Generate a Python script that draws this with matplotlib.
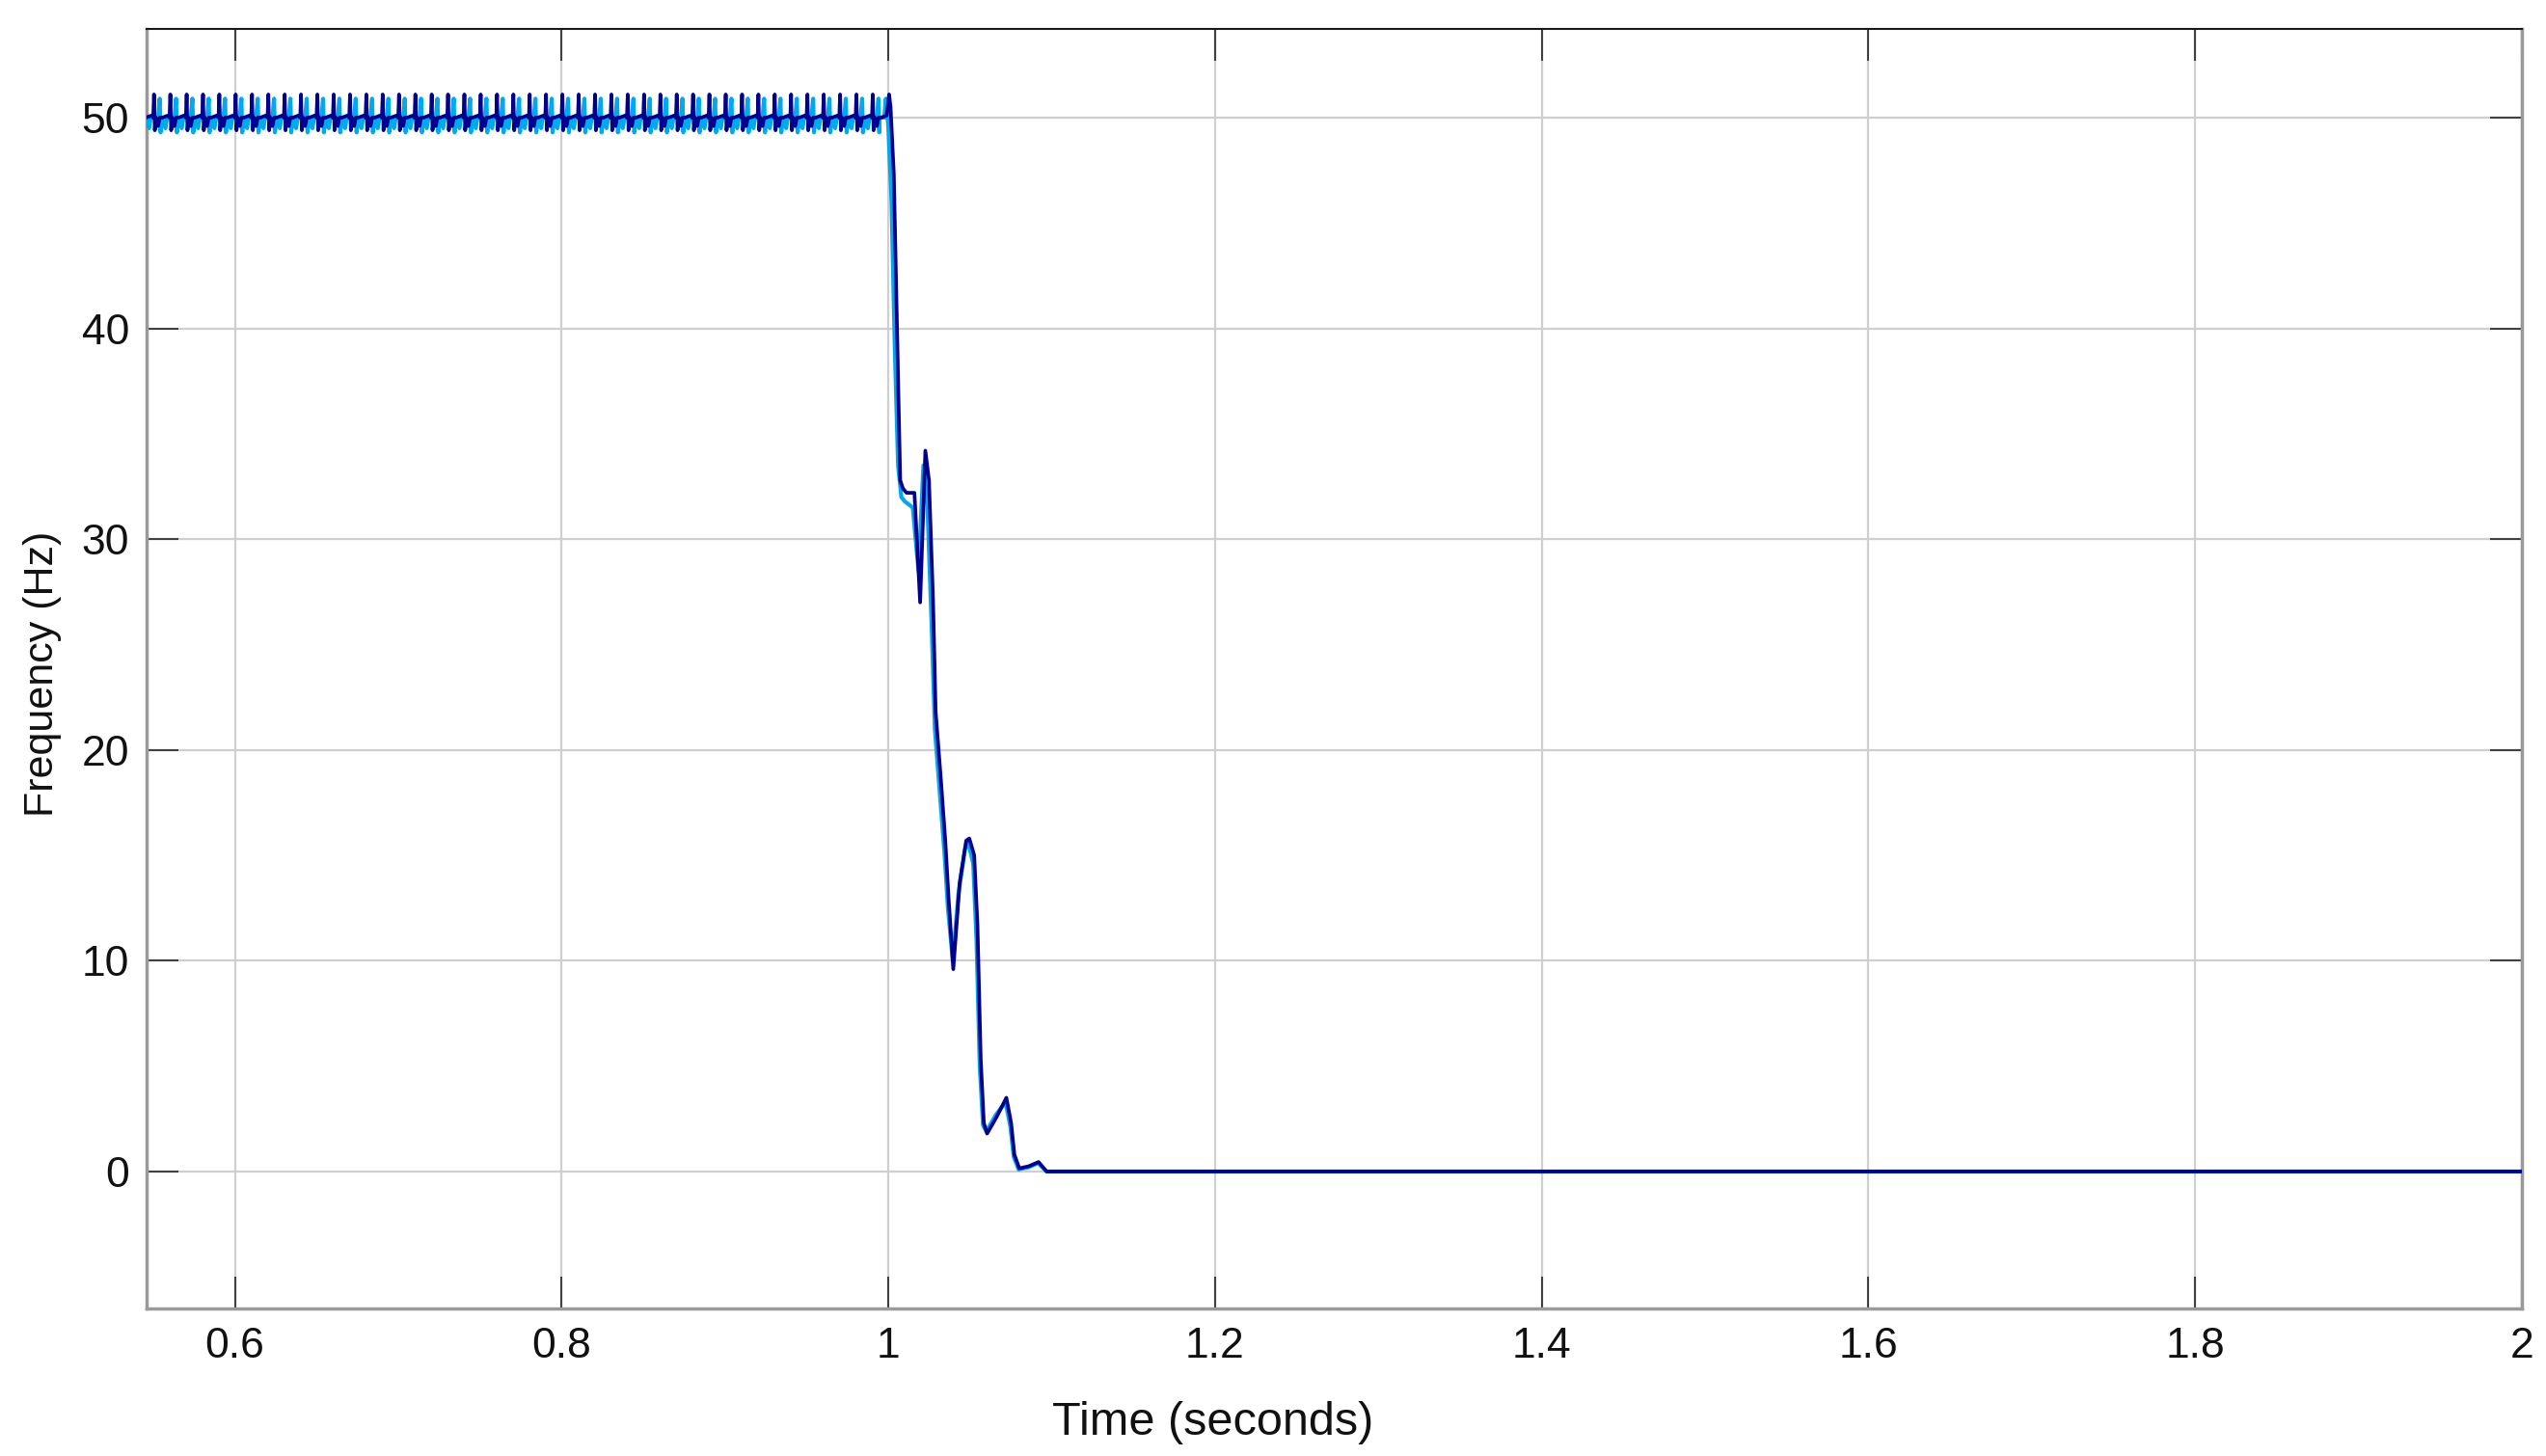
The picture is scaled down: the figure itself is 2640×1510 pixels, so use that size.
import numpy as np
import matplotlib
matplotlib.use("Agg")
import matplotlib.pyplot as plt

# ---------------- data ----------------
# steady-state ripple: start time of each 10 ms cycle before the fault
cycle_starts = [0.5455, 0.5555, 0.5655, 0.5755, 0.5855, 0.5955, 0.6055, 0.6155,
                0.6255, 0.6355, 0.6455, 0.6555, 0.6655, 0.6755, 0.6855, 0.6955,
                0.7055, 0.7155, 0.7255, 0.7355, 0.7455, 0.7555, 0.7655, 0.7755,
                0.7855, 0.7955, 0.8055, 0.8155, 0.8255, 0.8355, 0.8455, 0.8555,
                0.8655, 0.8755, 0.8855, 0.8955, 0.9055, 0.9155, 0.9255, 0.9355,
                0.9455, 0.9555, 0.9655, 0.9755, 0.9855]
# shape of one ripple cycle (time offset within cycle, frequency)
dark_cycle_dt = [0.0, 0.0035, 0.0045, 0.0050, 0.0055, 0.0062, 0.0075, 0.0085]
dark_cycle_f = [50.0, 50.1, 50.0, 51.1, 49.4, 50.0, 49.6, 50.0]
cyan_cycle_dt = [0.0, 0.0020, 0.0030, 0.0045, 0.0075, 0.0085, 0.0090]
cyan_cycle_f = [50.0, 49.5, 50.0, 50.1, 50.0, 50.9, 49.3]

# transient after the fault at t = 1 s (dark blue trace)
dark_t = [0.9955, 0.9990, 1.0005, 1.0014, 1.0034, 1.0053, 1.0073, 1.0090, 1.0112,
          1.0160, 1.0195, 1.0227, 1.0249, 1.0274, 1.0290, 1.0320, 1.0349, 1.0369,
          1.0398, 1.0437, 1.0477, 1.0496, 1.0526, 1.0546, 1.0566, 1.0585, 1.0605,
          1.0664, 1.0723, 1.0752, 1.0772, 1.0802, 1.0860, 1.0920, 1.0970, 1.1100,
          1.5000, 2.0000]
dark_f = [50.0, 50.1, 51.1, 50.5, 47.3, 40.2, 32.8, 32.4, 32.2,
          32.2, 27.0, 34.2, 32.8, 27.1, 21.8, 18.8, 15.7, 13.0,
          9.6, 13.7, 15.7, 15.8, 15.0, 11.7, 5.3, 2.3, 1.8,
          2.6, 3.5, 2.3, 0.8, 0.15, 0.25, 0.45, 0.0, 0.0,
          0.0, 0.0]

# transient (light blue trace)
cyan_t = [0.9945, 0.9975, 0.9985, 1.0000, 1.0020, 1.0040, 1.0060, 1.0080, 1.0100,
          1.0150, 1.0185, 1.0215, 1.0240, 1.0265, 1.0285, 1.0315, 1.0345, 1.0365,
          1.0395, 1.0430, 1.0470, 1.0490, 1.0520, 1.0540, 1.0560, 1.0580, 1.0600,
          1.0660, 1.0718, 1.0748, 1.0768, 1.0798, 1.0858, 1.0918, 1.0968, 1.1100,
          1.5000, 2.0000]
cyan_f = [50.0, 50.0, 50.9, 49.6, 46.0, 39.0, 33.5, 32.0, 31.8,
          31.5, 28.5, 33.5, 31.5, 26.0, 21.0, 18.0, 15.0, 12.5,
          10.0, 13.2, 15.3, 15.6, 14.6, 11.0, 5.0, 2.2, 1.9,
          2.7, 3.3, 2.1, 0.7, 0.1, 0.2, 0.4, 0.0, 0.0,
          0.0, 0.0]

x_ticks = [0.6, 0.8, 1.0, 1.2, 1.4, 1.6, 1.8, 2.0]
x_tick_labels = ["0.6", "0.8", "1", "1.2", "1.4", "1.6", "1.8", "2"]
y_ticks = [0, 10, 20, 30, 40, 50]

# ---------------- build series ----------------
starts = np.asarray(cycle_starts)[:, None]
dark_ss_t = (starts + np.asarray(dark_cycle_dt)[None, :]).ravel()
dark_ss_f = np.tile(dark_cycle_f, len(cycle_starts))
cyan_ss_t = (starts + np.asarray(cyan_cycle_dt)[None, :]).ravel()
cyan_ss_f = np.tile(cyan_cycle_f, len(cycle_starts))

dark_all_t = np.concatenate([dark_ss_t, dark_t])
dark_all_f = np.concatenate([dark_ss_f, dark_f])
cyan_all_t = np.concatenate([cyan_ss_t, cyan_t])
cyan_all_f = np.concatenate([cyan_ss_f, cyan_f])

# ---------------- plot ----------------
plt.rcParams['font.family'] = ['Liberation Sans', 'DejaVu Sans']
fig = plt.figure(figsize=(26.4, 15.1), dpi=100)
ax = fig.add_axes([0.0576, 0.1013, 0.9329, 0.8787])

ax.plot(cyan_all_t, cyan_all_f, color='#00A8EE', lw=3.0, zorder=3)
ax.plot(dark_all_t, dark_all_f, color='#00008F', lw=2.7, zorder=4)

ax.set_xlim(0.546, 2.0)
ax.set_ylim(-6.5, 54.2)
ax.set_xticks(x_ticks)
ax.set_xticklabels(x_tick_labels)
ax.set_yticks(y_ticks)

ax.grid(True, color='#cfcfcf', lw=1.6)
ax.set_axisbelow(True)

ax.tick_params(axis='both', direction='in', length=24, width=1.5,
               color='#404040', labelsize=32, top=True, right=True,
               labelcolor='#111111')
ax.tick_params(axis='x', pad=14)
ax.tick_params(axis='y', pad=13)

for side in ['left', 'bottom', 'right']:
    ax.spines[side].set_color('#9a9a9a')
    ax.spines[side].set_linewidth(2.5)
ax.spines['top'].set_color('#1a1a1a')
ax.spines['top'].set_linewidth(1.5)

ax.set_xlabel('Time (seconds)', fontsize=35, color='#111111')
ax.xaxis.set_label_coords(0.4487, -0.072)
ax.set_ylabel('Frequency (Hz)', fontsize=31, color='#111111')
ax.yaxis.set_label_coords(-0.0356, 0.496)

fig.savefig('out.png', dpi=100, facecolor='white')
